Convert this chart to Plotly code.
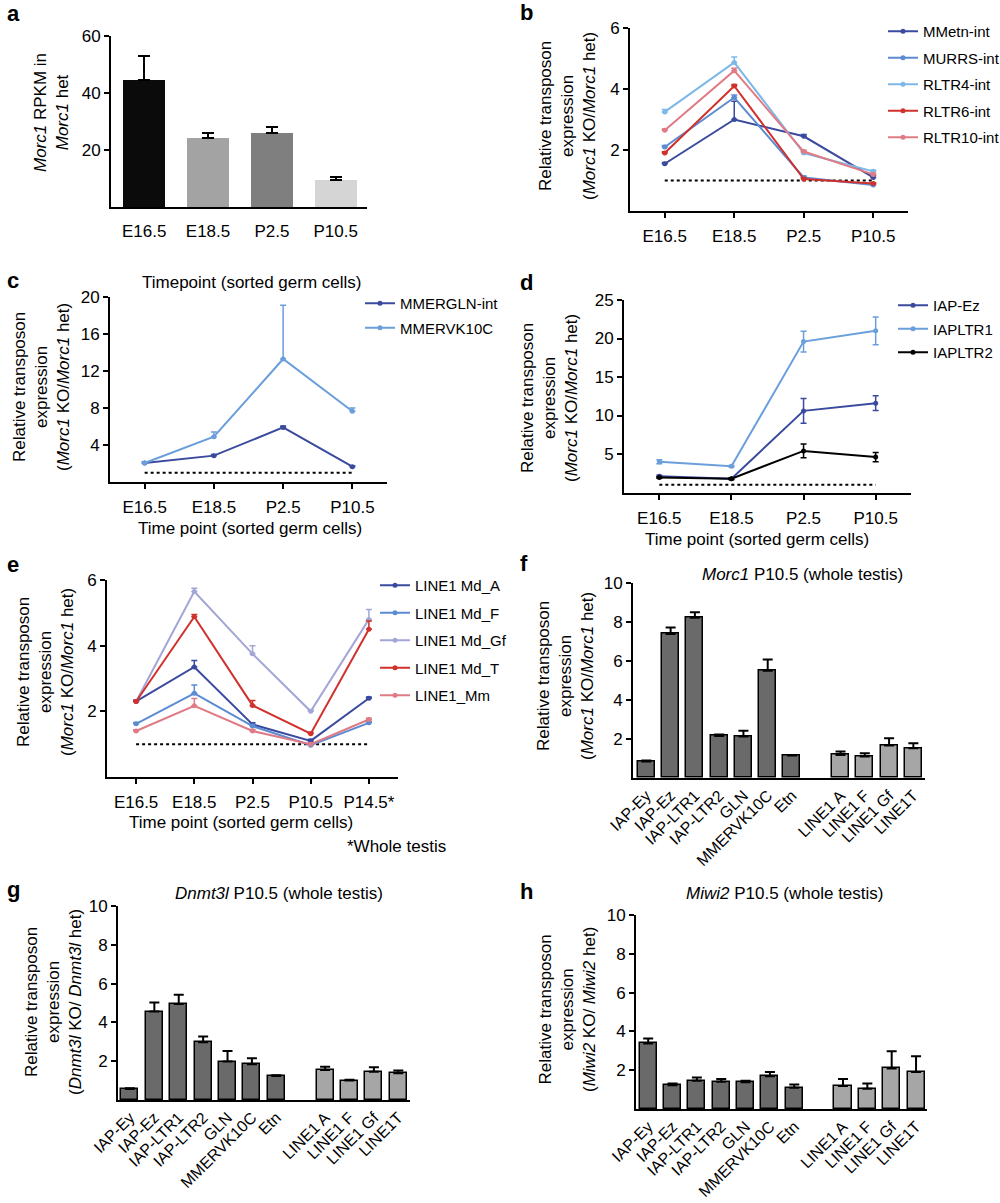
import plotly.graph_objects as go

FONT = "Liberation Sans, Arial, sans-serif"
W, H = 1000, 1203

# ---------------- data ----------------
TIME4 = ["E16.5", "E18.5", "P2.5", "P10.5"]
TIME5 = ["E16.5", "E18.5", "P2.5", "P10.5", "P14.5*"]

# a
A_VALS = [44.5, 24.2, 26.0, 9.5]
A_ERR = [8.5, 1.8, 2.0, 1.0]
A_COLORS = ["#0b0b0b", "#a3a3a3", "#7f7f7f", "#d5d5d5"]

# b
B_NAMES = ["MMetn-int", "MURRS-int", "RLTR4-int", "RLTR6-int", "RLTR10-int"]
B_MMETN = [1.55, 3.0, 2.45, 1.1]
B_MMETN_ERR = [0.04, 0.6, 0.06, 0.06]
B_MURRS = [2.1, 3.72, 1.1, 0.85]
B_MURRS_ERR = [0.05, 0.08, 0.05, 0.04]
B_RLTR4 = [3.25, 4.87, 1.9, 1.3]
B_RLTR4_ERR = [0.08, 0.18, 0.05, 0.04]
B_RLTR6 = [1.9, 4.1, 1.05, 0.9]
B_RLTR6_ERR = [0.04, 0.05, 0.04, 0.03]
B_RLTR10 = [2.65, 4.6, 1.95, 1.2]
B_RLTR10_ERR = [0.04, 0.08, 0.04, 0.04]

# c
C_NAMES = ["MMERGLN-int", "MMERVK10C"]
C_MMERGLN = [2.05, 2.85, 5.9, 1.65]
C_MMERGLN_ERR = [0.1, 0.12, 0.15, 0.1]
C_MMERVK10C = [2.05, 4.9, 13.3, 7.65]
C_MMERVK10C_ERR = [0.1, 0.5, 5.8, 0.35]

# d
D_NAMES = ["IAP-Ez", "IAPLTR1", "IAPLTR2"]
D_IAPEZ = [2.1, 1.8, 10.6, 11.6]
D_IAPEZ_ERR = [0.15, 0.1, 1.6, 0.95]
D_IAPLTR1 = [4.0, 3.4, 19.6, 21.0]
D_IAPLTR1_ERR = [0.25, 0.1, 1.35, 1.8]
D_IAPLTR2 = [1.95, 1.8, 5.4, 4.6]
D_IAPLTR2_ERR = [0.1, 0.1, 0.9, 0.6]

# e
E_NAMES = ["LINE1 Md_A", "LINE1 Md_F", "LINE1 Md_Gf", "LINE1 Md_T", "LINE1_Mm"]
E_A = [2.3, 3.35, 1.6, 1.1, 2.4]
E_A_ERR = [0.04, 0.2, 0.05, 0.05, 0.04]
E_F = [1.62, 2.55, 1.55, 0.97, 1.65]
E_F_ERR = [0.04, 0.25, 0.05, 0.04, 0.05]
E_GF = [2.3, 5.65, 3.75, 2.0, 4.8]
E_GF_ERR = [0.04, 0.1, 0.25, 0.05, 0.3]
E_T = [2.3, 4.88, 2.18, 1.32, 4.5]
E_T_ERR = [0.04, 0.07, 0.15, 0.04, 0.25]
E_MM = [1.4, 2.17, 1.4, 1.0, 1.75]
E_MM_ERR = [0.04, 0.22, 0.05, 0.04, 0.04]

REF_LEVEL = 1.0

# f, g, h (bar panels)
BAR_CATS = ["IAP-Ey", "IAP-Ez", "IAP-LTR1", "IAP-LTR2", "GLN", "MMERVK10C", "Etn",
            "LINE1 A", "LINE1 F", "LINE1 Gf", "LINE1T"]
BAR_GROUP = ["ERV"] * 7 + ["LINE1"] * 4
F_VALS = [0.84, 7.37, 8.2, 2.15, 2.12, 5.49, 1.15, 1.18, 1.1, 1.66, 1.52]
F_ERR = [0.06, 0.33, 0.28, 0.07, 0.3, 0.58, 0.03, 0.17, 0.17, 0.37, 0.26]
G_VALS = [0.57, 4.56, 4.95, 2.98, 1.98, 1.84, 1.24, 1.55, 1.0, 1.45, 1.38]
G_ERR = [0.04, 0.46, 0.47, 0.29, 0.55, 0.31, 0.04, 0.17, 0.05, 0.24, 0.14]
H_VALS = [3.38, 1.23, 1.45, 1.4, 1.38, 1.69, 1.09, 1.19, 1.05, 2.09, 1.91]
H_ERR = [0.25, 0.09, 0.17, 0.14, 0.07, 0.22, 0.17, 0.35, 0.26, 0.89, 0.81]

# ---------------- styling ----------------
DARKBLUE = "#3a4a9e"
MIDBLUE = "#5b8bd2"
LIGHTBLUE = "#7db8e8"
SKYBLUE = "#6a9fdc"
RED = "#d0312d"
PINK = "#e07b86"
LAVENDER = "#a3a6d6"
BAR_DARK = "#6a6a6a"
BAR_LIGHT = "#a6a6a6"


def fx(p):
    return p / W


def fy(p):
    return 1 - p / H


fig = go.Figure()

AX_COMMON = dict(showgrid=False, zeroline=False, showline=True, linecolor="black",
                 linewidth=2, tickfont=dict(size=17, color="black", family=FONT),
                 tickcolor="black", tickwidth=2, ticklen=5, automargin=False)


def setup_axes(n, x0, x1, y0, y1, xrange, yrange, ytickvals, xticks="outside",
               xtickvals=None, xticktext=None, xtickangle=0, cats=None,
               xfont=17, xstandoff=4):
    xa = "xaxis" if n == 1 else f"xaxis{n}"
    ya = "yaxis" if n == 1 else f"yaxis{n}"
    xref = "y" if n == 1 else f"y{n}"
    yref = "x" if n == 1 else f"x{n}"
    xd = dict(AX_COMMON, domain=[fx(x0), fx(x1)], range=xrange, anchor=xref,
              ticks=xticks, tickangle=xtickangle, ticklabelstandoff=xstandoff,
              tickfont=dict(size=xfont, color="black", family=FONT))
    if cats is not None:
        xd["type"] = "category"
        xd["categoryorder"] = "array"
        xd["categoryarray"] = cats
    if xtickvals is not None:
        xd["tickmode"] = "array"
        xd["tickvals"] = xtickvals
        xd["ticktext"] = xticktext
    yd = dict(AX_COMMON, domain=[fy(y1), fy(y0)], range=yrange, anchor=yref,
              ticks="outside", tickmode="array", tickvals=ytickvals)
    fig.update_layout({xa: xd, ya: yd})


def axref(n):
    return ("x", "y") if n == 1 else (f"x{n}", f"y{n}")


def add_line(n, cats, vals, err, color, name, legend, both=False):
    xr, yr = axref(n)
    ey = dict(type="data", array=err, color=color, thickness=1.5, width=3)
    if not both:
        ey.update(symmetric=False, arrayminus=[0] * len(err))
    fig.add_trace(go.Scatter(
        x=cats, y=vals, mode="lines+markers", name=name, legend=legend,
        legendgroup=name, xaxis=xr, yaxis=yr,
        line=dict(color=color, width=2), marker=dict(color=color, size=5),
        error_y=ey))


def add_ref(n, cats):
    xr, yr = axref(n)
    fig.add_trace(go.Scatter(
        x=[cats[0], cats[-1]], y=[REF_LEVEL, REF_LEVEL], mode="lines",
        showlegend=False, xaxis=xr, yaxis=yr, hoverinfo="skip",
        line=dict(color="black", width=2, dash="dot")))


# ---- a ----
setup_axes(1, 111, 367, 36, 207, [-0.52, 3.49], [0, 60], [20, 40, 60], xticks="", cats=TIME4,
           xstandoff=8)
fig.add_trace(go.Bar(x=TIME4, y=A_VALS, marker=dict(color=A_COLORS, line=dict(width=0)),
                     width=0.66, showlegend=False, xaxis="x", yaxis="y",
                     error_y=dict(type="data", array=A_ERR, arrayminus=[0] * 4,
                                  symmetric=False, color="black", thickness=2, width=6)))

# ---- b ----
setup_axes(2, 630, 908, 28, 211, [-0.5, 3.5], [0, 6], [2, 4, 6], cats=TIME4)
add_ref(2, TIME4)
for vals, err, col, nm in [(B_MMETN, B_MMETN_ERR, DARKBLUE, B_NAMES[0]),
                           (B_MURRS, B_MURRS_ERR, MIDBLUE, B_NAMES[1]),
                           (B_RLTR4, B_RLTR4_ERR, LIGHTBLUE, B_NAMES[2]),
                           (B_RLTR6, B_RLTR6_ERR, RED, B_NAMES[3]),
                           (B_RLTR10, B_RLTR10_ERR, PINK, B_NAMES[4])]:
    add_line(2, TIME4, vals, err, col, nm, "legend")

# ---- c ----
setup_axes(3, 110, 387, 297, 482, [-0.5, 3.5], [0, 20], [4, 8, 12, 16, 20], cats=TIME4)
add_ref(3, TIME4)
add_line(3, TIME4, C_MMERGLN, C_MMERGLN_ERR, DARKBLUE, C_NAMES[0], "legend2")
add_line(3, TIME4, C_MMERVK10C, C_MMERVK10C_ERR, SKYBLUE, C_NAMES[1], "legend2")

# ---- d ----
setup_axes(4, 624, 911, 300, 492.5, [-0.49, 3.49], [0, 25], [5, 10, 15, 20, 25], cats=TIME4)
add_ref(4, TIME4)
add_line(4, TIME4, D_IAPEZ, D_IAPEZ_ERR, DARKBLUE, D_NAMES[0], "legend3", both=True)
add_line(4, TIME4, D_IAPLTR1, D_IAPLTR1_ERR, SKYBLUE, D_NAMES[1], "legend3", both=True)
add_line(4, TIME4, D_IAPLTR2, D_IAPLTR2_ERR, "black", D_NAMES[2], "legend3", both=True)

# ---- e ----
setup_axes(5, 107, 398, 580, 777, [-0.5, 4.5], [0, 6], [2, 4, 6], cats=TIME5)
add_ref(5, TIME5)
for vals, err, col, nm in [(E_A, E_A_ERR, DARKBLUE, E_NAMES[0]),
                           (E_F, E_F_ERR, MIDBLUE, E_NAMES[1]),
                           (E_GF, E_GF_ERR, LAVENDER, E_NAMES[2]),
                           (E_T, E_T_ERR, RED, E_NAMES[3]),
                           (E_MM, E_MM_ERR, PINK, E_NAMES[4])]:
    add_line(5, TIME5, vals, err, col, nm, "legend4")

# ---- f, g, h ----
bar_pos = []
offset = 0
for i, g in enumerate(BAR_GROUP):
    if i > 0 and g != BAR_GROUP[i - 1]:
        offset += 1
    bar_pos.append(i + offset)
bar_cols = [BAR_DARK if g == "ERV" else BAR_LIGHT for g in BAR_GROUP]


def add_bars(n, vals, err):
    xr, yr = axref(n)
    fig.add_trace(go.Bar(
        x=bar_pos, y=vals, width=0.7, showlegend=False, xaxis=xr, yaxis=yr,
        marker=dict(color=bar_cols, line=dict(color="black", width=1.5)),
        error_y=dict(type="data", array=err, arrayminus=[0] * len(err), symmetric=False,
                     color="black", thickness=2, width=5)))


BAR_AX = dict(xticks="", xtickvals=bar_pos, xticktext=BAR_CATS, xtickangle=-45,
              xfont=16, xstandoff=0)
setup_axes(6, 633, 925, 582.6, 778, [-0.55, 11.48], [0, 10], [2, 4, 6, 8, 10], **BAR_AX)
add_bars(6, F_VALS, F_ERR)
setup_axes(7, 118, 410, 906, 1100, [-0.49, 11.48], [0, 10], [2, 4, 6, 8, 10], **BAR_AX)
add_bars(7, G_VALS, G_ERR)
setup_axes(8, 636, 927, 915, 1109, [-0.5, 11.45], [0, 10], [2, 4, 6, 8, 10], **BAR_AX)
add_bars(8, H_VALS, H_ERR)

# ---------------- annotations ----------------
ann = []


def text(x, y, t, size=17, angle=0, xanchor="center", yanchor="middle"):
    ann.append(dict(x=fx(x), y=fy(y), xref="paper", yref="paper", text=t, showarrow=False,
                    textangle=angle, xanchor=xanchor, yanchor=yanchor,
                    font=dict(size=size, color="black", family=FONT)))


RT = "Relative transposon<br>expression<br>"
text(52, 113, "<i>Morc1</i> RPKM in<br><i>Morc1</i> het", angle=-90)
text(567, 116, RT + "(<i>Morc1</i> KO/<i>Morc1</i> het)", angle=-90)
text(41, 387, RT + "(<i>Morc1</i> KO/<i>Morc1</i> het)", angle=-90)
text(550, 398, RT + "(<i>Morc1</i> KO/<i>Morc1</i> het)", angle=-90)
text(45, 672, RT + "(<i>Morc1</i> KO/<i>Morc1</i> het)", angle=-90)
text(565, 676, RT + "(<i>Morc1</i> KO/<i>Morc1</i> het)", angle=-90)
text(53, 1002, RT + "(<i>Dnmt3l</i> KO/ <i>Dnmt3l</i> het)", angle=-90)
text(567, 1010, RT + "(<i>Miwi2</i> KO/ <i>Miwi2</i> het)", angle=-90)

text(252, 283, "Timepoint (sorted germ cells)")
text(250, 528, "Time point (sorted germ cells)")
text(757, 539, "Time point (sorted germ cells)")
text(241, 822, "Time point (sorted germ cells)")
text(448, 846, "*Whole testis", xanchor="right")
text(802, 574, "<i>Morc1</i> P10.5 (whole testis)")
text(279, 893, "<i>Dnmt3l</i> P10.5 (whole testis)")
text(784, 893, "<i>Miwi2</i> P10.5 (whole testis)")

for lx, ly, lt in [(5, 14, "a"), (518, 12, "b"), (5, 280, "c"), (518, 282, "d"),
                   (5, 564, "e"), (518, 563, "f"), (5, 889, "g"), (518, 891, "h")]:
    text(lx, ly, "<b>%s</b>" % lt, size=22, xanchor="left")

LEG = dict(xanchor="left", yanchor="top", bgcolor="rgba(0,0,0,0)",
           xref="container", yref="container",
           font=dict(size=15, color="black", family=FONT), itemwidth=30)

fig.update_layout(
    width=W, height=H, autosize=False,
    margin=dict(l=0, r=0, t=0, b=0, pad=0, autoexpand=False),
    paper_bgcolor="white", plot_bgcolor="white",
    font=dict(family=FONT, color="black"),
    annotations=ann,
    bargap=0,
    legend=dict(LEG, x=fx(883), y=fy(15), tracegroupgap=4),
    legend2=dict(LEG, x=fx(360), y=fy(287), tracegroupgap=2),
    legend3=dict(LEG, x=fx(893), y=fy(289), tracegroupgap=1),
    legend4=dict(LEG, x=fx(375), y=fy(569), tracegroupgap=5),
)

fig.write_html("out.html", config={"displayModeBar": False},
               post_script="document.body.style.margin='0px';")
